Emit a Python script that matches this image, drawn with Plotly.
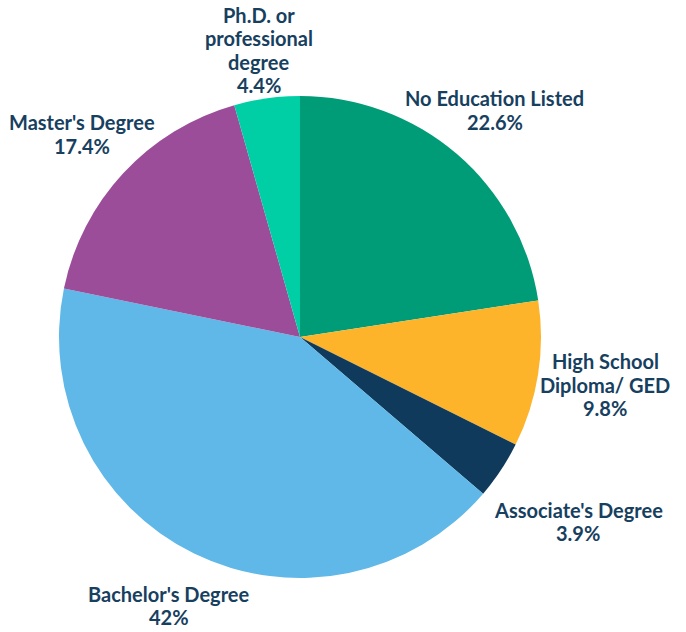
import math
import plotly.graph_objects as go

categories = ["No Education Listed", "High School<br>Diploma/ GED", "Associate's Degree",
              "Bachelor's Degree", "Master's Degree", "Ph.D. or<br>professional<br>degree"]
values = [22.6, 9.8, 3.9, 42, 17.4, 4.4]
value_labels = ["22.6%", "9.8%", "3.9%", "42%", "17.4%", "4.4%"]
colors = ["#009B77", "#FDB42A", "#0F3A5C", "#5FB8E8", "#9B4D9A", "#00CFA6"]

W, H = 686, 632
L, R_, T, B = 59, 145, 96, 54
PW, PH = W - L - R_, H - T - B
cx, cy = L + PW / 2, T + PH / 2
rad = min(PW, PH) / 2

FS = 20
LH = 23.5   # line pitch
CH = 9.7    # approx char width
PAD = 8
EDGE = 3    # keep label blocks inside the figure

fig = go.Figure(go.Pie(
    labels=[c.replace("<br>", " ") for c in categories],
    values=values,
    marker=dict(colors=colors, line=dict(width=0)),
    sort=False,
    direction="clockwise",
    rotation=0,
    textinfo="none",
    hoverinfo="label+value",
    automargin=False,
    showlegend=False,
))

total = sum(values)
cum = 0.0
annotations = []
for cat, v, vl in zip(categories, values, value_labels):
    mid = (cum + v / 2) / total * 2 * math.pi
    cum += v
    dx, dy = math.sin(mid), -math.cos(mid)
    lines = cat.split("<br>") + [vl]
    n = len(lines)
    hh = n * LH / 2
    dist = rad * 1.22
    while True:
        ox, oy = dist * dx, dist * dy
        ok = True
        for i, ln in enumerate(lines):
            hw = len(ln) * CH / 2
            y0 = oy - hh + i * LH
            y1 = y0 + LH
            nx = min(max(0, ox - hw), ox + hw)
            ny = min(max(0, y0), y1)
            if math.hypot(nx, ny) < rad + PAD:
                ok = False
                break
        if ok:
            break
        dist += 1
    px, py = cx + ox, cy + oy
    py = max(py, EDGE + hh)
    for i, ln in enumerate(lines):
        ly = py - hh + (i + 0.5) * LH
        annotations.append(dict(
            x=(px - L) / PW, y=1 - (ly - T) / PH, xref="paper", yref="paper",
            text=ln, showarrow=False, xanchor="center", yanchor="middle",
            align="center",
            font=dict(family="Lato", size=FS, color="#17405F", weight="bold"),
        ))

fig.update_layout(
    width=W, height=H,
    margin=dict(l=L, r=R_, t=T, b=B),
    paper_bgcolor="white",
    font=dict(family="Lato", size=FS, color="#17405F"),
    annotations=annotations,
)
fig.write_html("out.html", config={"displayModeBar": False},
               post_script="document.body.style.margin='0';")
